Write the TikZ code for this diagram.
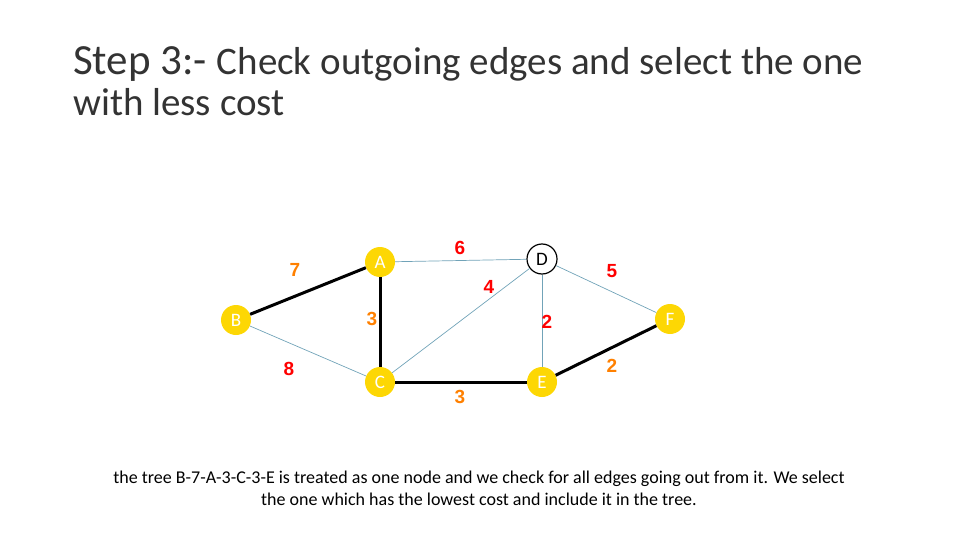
\documentclass[tikz,border=0pt]{standalone}
\usepackage{fontspec}
\setmainfont{Carlito}
\newfontfamily\lblfont{Liberation Sans}
\begin{document}
\begin{tikzpicture}[x=1pt,y=-1pt,
  vtx/.style={circle,fill=yellow!75!orange,draw=none,minimum size=30pt,inner sep=0pt,text=white,font=\fontsize{19}{19}\selectfont},
  thin edge/.style={draw=cyan!40!gray,line width=0.7pt},
  thick edge/.style={draw=black,line width=3pt},
  wr/.style={font=\lblfont\bfseries\fontsize{19}{19}\selectfont,text=red},
  wo/.style={font=\lblfont\bfseries\fontsize{19}{19}\selectfont,text=orange}]
\useasboundingbox (0,0) rectangle (960,540);
\node[anchor=base west,inner sep=0pt,font=\fontsize{43}{43}\selectfont,text=black!80] (t1) at (73,75) {Step 3:- {\fontsize{39}{39}\selectfont Check outgoing edges and select the one}};
\node[anchor=base west,inner sep=0pt,font=\fontsize{39}{39}\selectfont,text=black!80] (t2) at (73,116) {with less cost};
\node[vtx] (A) at (380,262) {A};
\node[vtx] (B) at (236,320) {B};
\node[vtx] (C) at (380,382) {C};
\node[circle,draw=black,line width=1.2pt,fill=white,minimum size=30pt,inner sep=0pt,font=\fontsize{19}{19}\selectfont] (D) at (542,259) {D};
\node[vtx] (E) at (542,382) {E};
\node[vtx] (F) at (670,319) {F};
\draw[thick edge] (B) -- (A);
\draw[thick edge] (A) -- (C);
\draw[thick edge] (C) -- (E);
\draw[thick edge] (E) -- (F);
\draw[thin edge] (B) -- (C);
\draw[thin edge] (A) -- (D);
\draw[thin edge] (C) -- (D);
\draw[thin edge] (D) -- (E);
\draw[thin edge] (D) -- (F);
\node[wo] (w7) at (295,270) {7};
\node[wr] (w6) at (460,248) {6};
\node[wr] (w4) at (489,287) {4};
\node[wr] (w5) at (612,271) {5};
\node[wo] (w3a) at (372,319) {3};
\node[wr] (w2a) at (547,322) {2};
\node[wr] (w8) at (289,369) {8};
\node[wo] (w3b) at (460,397) {3};
\node[wo] (w2b) at (612,366) {2};
\node[align=center,font=\fontsize{18}{22}\selectfont] (cap) at (479,488) {the tree B-7-A-3-C-3-E is treated as one node and we check for all edges going out from it. We select\\the one which has the lowest cost and include it in the tree.};
\end{tikzpicture}
\end{document}
